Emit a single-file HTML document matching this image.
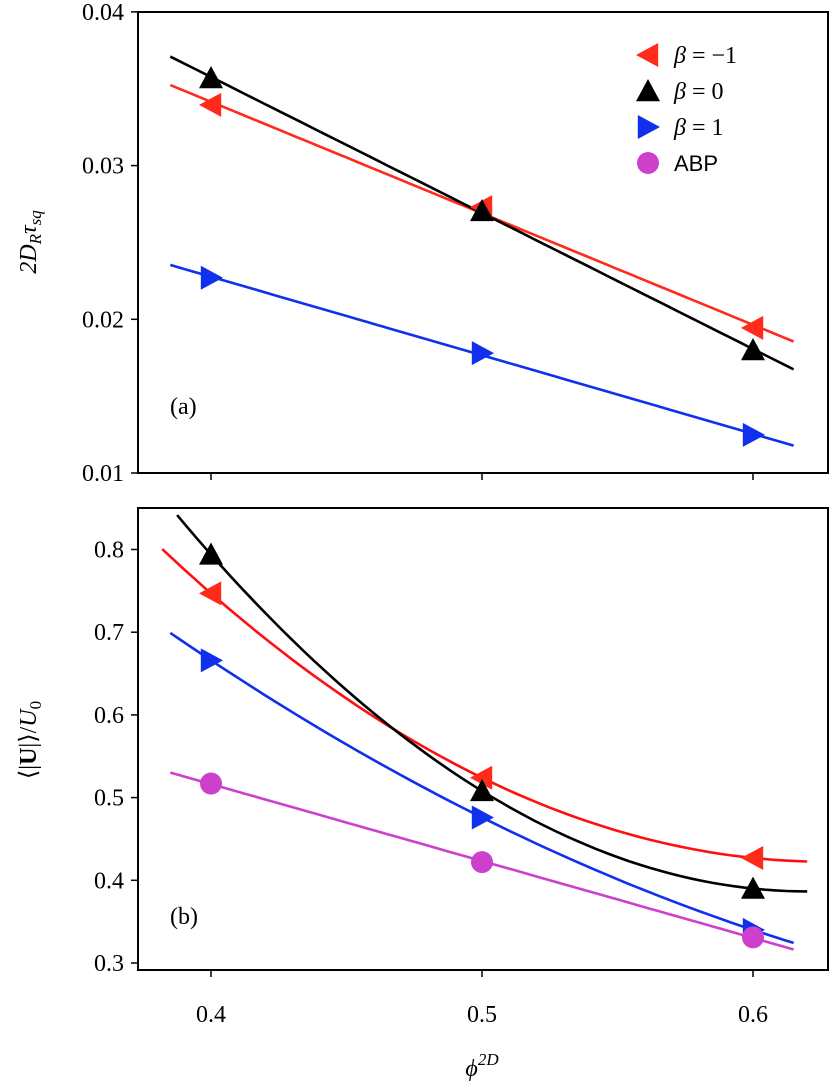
<!DOCTYPE html>
<html><head><meta charset="utf-8"><style>
body{margin:0;background:#fff;}
text{font-family:"Liberation Serif",serif;font-size:24px;fill:#000;}
</style></head><body>
<svg id="chart" width="830" height="1086" viewBox="0 0 830 1086" xmlns="http://www.w3.org/2000/svg"></svg>
<script>
const xVals=[0.4,0.5,0.6];
const xTicks=[0.4,0.5,0.6];
const aTicks=[0.01,0.02,0.03,0.04];
const bTicks=[0.3,0.4,0.5,0.6,0.7,0.8];
const aBetaM1=[0.03395,0.0273,0.01944];
const aBeta0=[0.0357,0.02705,0.0180];
const aBeta1=[0.0227,0.0178,0.01248];
const bBetaM1=[0.747,0.524,0.427];
const bBeta0=[0.794,0.508,0.390];
const bBeta1=[0.666,0.476,0.340];
const bABP=[0.517,0.422,0.331];
const svg=document.getElementById('chart');
const NS='http://www.w3.org/2000/svg';
function mk(t,a,p){const e=document.createElementNS(NS,t);for(const k in a)e.setAttribute(k,a[k]);(p||svg).appendChild(e);return e;}
const X=v=>211+(v-0.4)*2710;
const Ya=v=>473-(v-0.01)*15370;
const Yb=v=>963-(v-0.3)*827;
function linfit(ys){const mx=0.5;let sxy=0,sxx=0;const my=(ys[0]+ys[1]+ys[2])/3;xVals.forEach((x,i)=>{sxy+=(x-mx)*(ys[i]-my);sxx+=(x-mx)*(x-mx);});const b=sxy/sxx;return x=>my+b*(x-mx);}
function quad(ys){return x=>{let s=0;for(let i=0;i<3;i++){let l=1;for(let j=0;j<3;j++)if(j!==i)l*=(x-xVals[j])/(xVals[i]-xVals[j]);s+=ys[i]*l;}return s;};}
function curve(f,x0,x1,Y,color,name){let d='';for(let k=0;k<=60;k++){const x=x0+(x1-x0)*k/60;d+=(k?'L':'M')+X(x).toFixed(1)+','+Y(f(x)).toFixed(1);}const p=mk('path',{d:d,fill:'none',stroke:color,'stroke-width':2.6});}
function marker(type,cx,cy,color,name){let e;const s=12;
 if(type==='o')e=mk('circle',{cx:cx,cy:cy,r:11,fill:color});
 else{let pts;if(type==='^')pts=[[cx,cy-s],[cx-s,cy+s*0.85],[cx+s,cy+s*0.85]];else if(type==='<')pts=[[cx-s,cy],[cx+s*0.85,cy-s],[cx+s*0.85,cy+s]];else pts=[[cx+s,cy],[cx-s*0.85,cy-s],[cx-s*0.85,cy+s]];e=mk('polygon',{points:pts.map(p=>p.join(',')).join(' '),fill:color});}
 }
function axes(top,bottom,ticks,Y,fmt,pname){
 const r=mk('rect',{x:138,y:top,width:690,height:bottom-top,fill:'none',stroke:'#000','stroke-width':2});
 ticks.forEach(t=>{mk('line',{x1:131,x2:138,y1:Y(t),y2:Y(t),stroke:'#000','stroke-width':1.5});const tx=mk('text',{x:124,y:Y(t)+8,'text-anchor':'end'});tx.textContent=fmt(t);});
 xTicks.forEach(t=>{mk('line',{x1:X(t),x2:X(t),y1:bottom,y2:bottom+7,stroke:'#000','stroke-width':1.5});});
}
axes(12,473,aTicks,Ya,t=>t.toFixed(2),'panel-a');
axes(508,970,bTicks,Yb,t=>t.toFixed(1),'panel-b');
xTicks.forEach(t=>{const tx=mk('text',{x:X(t),y:1022,'text-anchor':'middle'});tx.textContent=t.toFixed(1);});
curve(linfit(aBetaM1),0.385,0.615,Ya,'#ff2a1a','line-a-beta-m1');
curve(linfit(aBeta0),0.385,0.615,Ya,'#000','line-a-beta-0');
curve(linfit(aBeta1),0.385,0.615,Ya,'#1030ee','line-a-beta-1');
xVals.forEach((x,i)=>{marker('<',X(x),Ya(aBetaM1[i]),'#ff2a1a','marker-a-beta-m1');marker('^',X(x),Ya(aBeta0[i]),'#000','marker-a-beta-0');marker('>',X(x),Ya(aBeta1[i]),'#1030ee','marker-a-beta-1');});
curve(quad(bBetaM1),0.382,0.62,Yb,'#ff1010','curve-b-beta-m1');
curve(quad(bBeta0),0.3875,0.62,Yb,'#000','curve-b-beta-0');
curve(quad(bBeta1),0.385,0.615,Yb,'#1030ee','curve-b-beta-1');
curve(linfit(bABP),0.385,0.615,Yb,'#cc40cc','line-b-abp');
xVals.forEach((x,i)=>{marker('<',X(x),Yb(bBetaM1[i]),'#ff2a1a','marker-b-beta-m1');marker('^',X(x),Yb(bBeta0[i]),'#000','marker-b-beta-0');marker('>',X(x),Yb(bBeta1[i]),'#1030ee','marker-b-beta-1');marker('o',X(x),Yb(bABP[i]),'#cc40cc','marker-b-abp');});
const leg=[['<','#ff2a1a','−1'],['^','#000','0'],['>','#1030ee','1'],['o','#cc40cc','ABP']];
leg.forEach((l,i)=>{const y=55+i*36;marker(l[0],648,y,l[1],'legend-marker');const t=mk('text',{x:674,y:y+8});if(l[2]==='ABP'){t.textContent='ABP';t.setAttribute('style','font-family:"Liberation Sans",sans-serif;font-size:22px');}else{t.innerHTML='<tspan font-style="italic">β</tspan> = '+l[2];}});
let t=mk('text',{x:170,y:414});t.textContent='(a)';
t=mk('text',{x:170,y:924});t.textContent='(b)';
t=mk('text',{x:0,y:0,transform:'translate(36,242) rotate(-90)','text-anchor':'middle','font-style':'italic','font-size':'26'});t.innerHTML='2D<tspan font-size="17" dy="5">R</tspan><tspan dy="-5">τ</tspan><tspan font-size="17" dy="5">sq</tspan>';
t=mk('text',{x:0,y:0,transform:'translate(36,740) rotate(-90)','text-anchor':'middle','font-size':'26'});t.innerHTML='⟨|<tspan font-weight="bold">U</tspan>|⟩/<tspan font-style="italic">U</tspan><tspan font-size="17" dy="5">0</tspan>';
t=mk('text',{x:482,y:1076,'text-anchor':'middle','font-style':'italic','font-size':'26'});t.innerHTML='ϕ<tspan font-size="17" dy="-11">2D</tspan>';
</script>
</body></html>
